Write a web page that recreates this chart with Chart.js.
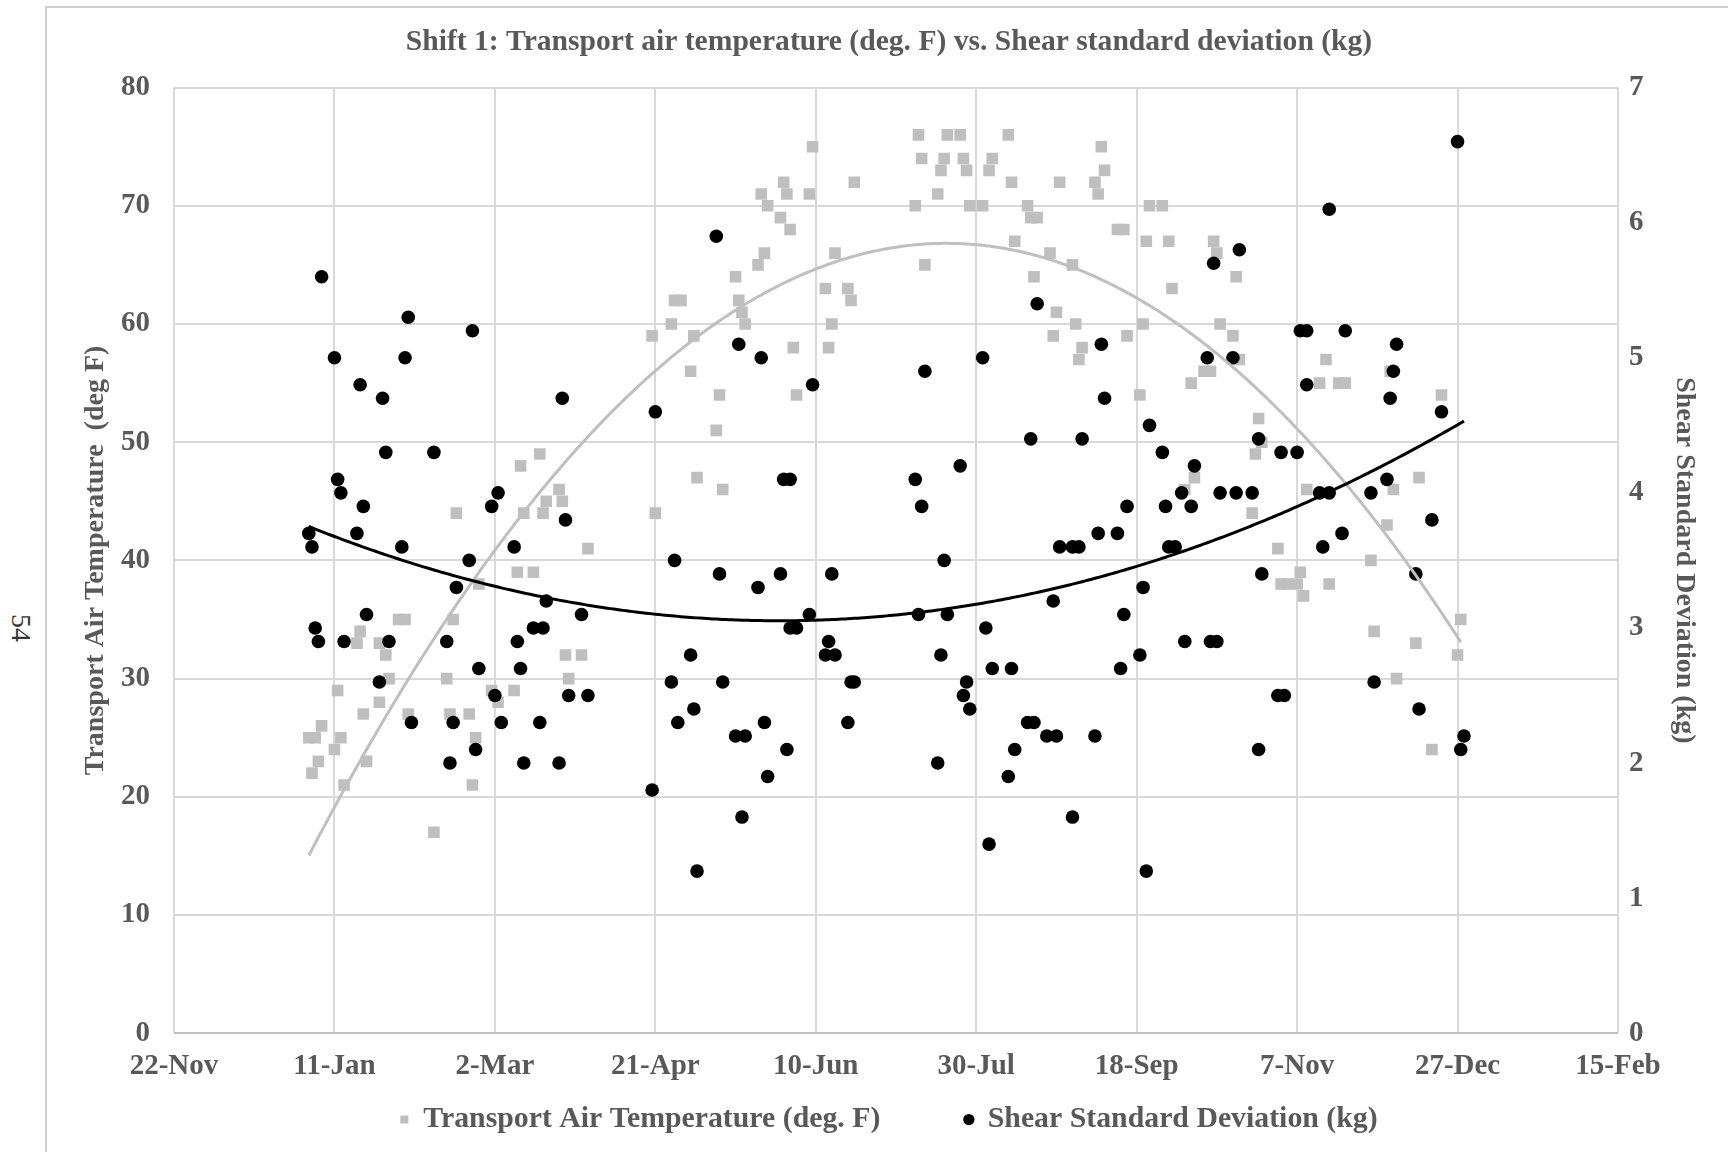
<!DOCTYPE html>
<html>
<head>
<meta charset="utf-8">
<title>Shift 1: Transport air temperature vs. Shear standard deviation</title>
<script src="https://cdn.jsdelivr.net/npm/chart.js@4.4.0/dist/chart.umd.min.js"></script>
<style>
  html, body { margin: 0; padding: 0; background: #fff; }
  body { width: 1728px; height: 1152px; position: relative; overflow: hidden; }
  #page { position: absolute; left: 45px; top: 6px; right: 0; bottom: 0;
          border-left: 2px solid #d0d0d0; border-top: 2px solid #d0d0d0; }
  #pageNo { position: absolute; left: 7px; top: 612px; width: 28px; height: 32px; line-height: 32px;
            text-align: center;
            font: 28px "Liberation Serif", "Times New Roman", serif; color: #333;
            transform: rotate(90deg); }
  #wrap { position: absolute; left: 50px; top: 8px; width: 1678px; height: 1144px; }
</style>
</head>
<body>
<div id="page"></div>
<div id="pageNo">54</div>
<div id="wrap"><canvas id="chart"></canvas></div>
<script>
// x values are day of year 2017 (1 = 1 Jan); the axis runs from 22 Nov 2016 to 15 Feb 2018
const tempDays = [
  3, 5, 4, 6, 7, 11, 12, 13, 14, 18, 19, 20, 21, 25, 25, 27, 28, 31, 33, 34, 42,
  46, 47, 48, 49, 53, 54, 55, 56, 60, 62, 67, 68, 69, 70, 73, 75, 76, 77, 81, 82, 83, 84, 88, 90,
  110, 111, 116, 117, 119, 122, 123, 124, 130, 131, 132, 136, 137, 138, 139, 143, 144, 145, 146,
  150, 151, 152, 153, 154, 155, 159, 160, 164, 165, 166, 167, 171, 172, 173,
  192, 193, 194, 195, 199, 200, 201, 202, 206, 207, 208, 209, 213, 215, 216, 221, 222, 223,
  227, 228, 230, 229, 234, 235, 236, 237, 241, 242, 243, 244, 248, 249, 250, 251, 255, 257, 258,
  262, 263, 264, 265, 269, 271, 272,
  276, 278, 279, 282, 284, 285, 286, 287, 291, 292, 293, 297, 298, 299, 300, 305, 306, 308,
  311, 312, 313, 314, 318, 320, 321, 324, 326, 334, 335, 339, 340, 341, 342, 348, 349, 353, 356, 361, 362
];
const tempF = [
  25, 25, 22, 23, 26, 24, 29, 25, 21, 33, 34, 27, 23, 28, 33, 32, 30, 35, 35, 27, 17,
  30, 27, 35, 44, 27, 21, 25, 38, 29, 28, 29, 39, 48, 44, 39, 49, 44, 45, 46, 45, 32, 30, 32, 41,
  59, 44, 60, 62, 62, 56, 59, 47, 51, 54, 46, 64, 62, 61, 60, 65, 71, 66, 70,
  69, 72, 71, 68, 58, 54, 71, 75, 63, 58, 60, 66, 63, 62, 72,
  70, 76, 74, 65, 71, 73, 74, 76, 76, 74, 73, 70, 70, 73, 74, 76, 72, 67,
  70, 69, 69, 64, 66, 59, 61, 72, 65, 60, 57, 58, 72, 71, 75, 73, 68, 68, 59,
  54, 60, 67, 70, 70, 67, 63,
  46, 55, 47, 56, 56, 67, 66, 60, 59, 64, 57, 44, 49, 52, 50, 41, 38, 38,
  38, 39, 37, 46, 55, 57, 38, 55, 55, 40, 34, 43, 56, 46, 30, 33, 47, 24, 54, 32, 35
];
const shearDays = [
  3, 4, 5, 6, 7, 11, 12, 13, 14, 18, 19, 20, 21, 25, 26, 27, 28, 32, 33, 34, 35, 42,
  46, 47, 48, 49, 53, 54, 55, 56, 60, 61, 62, 63, 67, 68, 69, 70, 73, 75, 76, 77, 81, 82, 83, 84, 88, 90,
  110, 111, 116, 117, 118, 122, 123, 124, 130, 131, 132, 136, 137, 138, 139, 143, 144, 145, 146,
  150, 151, 152, 153, 153, 155, 159, 160, 164, 165, 166, 167, 171, 172, 173,
  192, 193, 194, 195, 199, 200, 201, 202, 206, 207, 208, 209, 213, 214, 215, 216, 221, 222, 223,
  227, 228, 229, 230, 233, 235, 236, 237, 241, 241, 243, 244, 248, 249, 250, 251, 255, 256, 257, 258,
  262, 263, 264, 265, 269, 270, 271, 273, 275, 276,
  278, 279, 283, 284, 285, 286, 287, 291, 292, 293, 297, 299, 299, 300, 305, 306, 307,
  311, 312, 314, 314, 318, 319, 321, 321, 325, 326, 334, 335, 339, 340, 341, 342, 348, 349, 353, 356, 361, 362, 363
];
const shearKg = [
  3.7, 3.6, 3.0, 2.9, 5.6, 5.0, 4.1, 4.0, 2.9, 3.7, 4.8, 3.9, 3.1, 2.6, 4.7, 4.3, 2.9, 3.6, 5.0, 5.3, 2.3, 4.3,
  2.9, 2.0, 2.3, 3.3, 3.5, 5.2, 2.1, 2.7, 3.9, 2.5, 4.0, 2.3, 3.6, 2.9, 2.7, 2.0, 3.0, 2.3, 3.0, 3.2, 2.0, 4.7, 3.8, 2.5, 3.1, 2.5,
  1.8, 4.6, 2.6, 3.5, 2.3, 2.8, 2.4, 1.2, 5.9, 3.4, 2.6, 2.2, 5.1, 1.6, 2.2, 3.3, 5.0, 2.3, 1.9,
  3.4, 4.1, 2.1, 4.1, 3.0, 3.0, 3.1, 4.8, 2.8, 2.9, 3.4, 2.8, 2.3, 2.6, 2.6,
  4.1, 3.1, 3.9, 4.9, 2.0, 2.8, 3.5, 3.1, 4.2, 2.5, 2.6, 2.4, 5.0, 3.0, 1.4, 2.7, 1.9, 2.7, 2.1,
  2.3, 4.4, 2.3, 5.4, 2.2, 3.2, 2.2, 3.6, 1.6, 3.6, 3.6, 4.4, 2.2, 3.7, 5.1, 4.7, 3.7, 2.7, 3.1, 3.9,
  2.8, 3.3, 1.2, 4.5, 4.3, 3.9, 3.6, 3.6, 4.0, 2.9,
  3.9, 4.2, 5.0, 2.9, 5.7, 2.9, 4.0, 5.0, 4.0, 5.8, 4.0, 2.1, 4.4, 3.4, 2.5, 4.3, 2.5,
  4.3, 5.2, 5.2, 4.8, 4.0, 3.6, 4.0, 6.1, 3.7, 5.2, 4.0, 2.6, 4.1, 4.7, 4.9, 5.1, 3.4, 2.4, 3.8, 4.6, 6.6, 2.1, 2.2
];
const tickDays = [-39, 11, 61, 111, 161, 211, 261, 311, 361, 411];
const tickLabels = ['22-Nov', '11-Jan', '2-Mar', '21-Apr', '10-Jun', '30-Jul', '18-Sep', '7-Nov', '27-Dec', '15-Feb'];

const tempLabel = 'Transport Air Temperature (deg. F)';
const shearLabel = 'Shear Standard Deviation (kg)';

// least-squares second order polynomial, like the spreadsheet trendline
function quadFit(xs, ys) {
  const n = xs.length;
  const mx = xs.reduce((a, b) => a + b, 0) / n;
  let s1 = 0, s2 = 0, s3 = 0, s4 = 0, t0 = 0, t1 = 0, t2 = 0;
  xs.forEach((x0, i) => {
    const x = x0 - mx, y = ys[i];
    s1 += x; s2 += x * x; s3 += x * x * x; s4 += x * x * x * x;
    t0 += y; t1 += x * y; t2 += x * x * y;
  });
  const det3 = (m) =>
    m[0][0] * (m[1][1] * m[2][2] - m[1][2] * m[2][1]) -
    m[0][1] * (m[1][0] * m[2][2] - m[1][2] * m[2][0]) +
    m[0][2] * (m[1][0] * m[2][1] - m[1][1] * m[2][0]);
  const A = [[n, s1, s2], [s1, s2, s3], [s2, s3, s4]];
  const rhs = [t0, t1, t2];
  const D = det3(A);
  const coef = [0, 1, 2].map(col => det3(A.map((row, r) => row.map((v, c) => (c === col ? rhs[r] : v)))) / D);
  return x => coef[0] + coef[1] * (x - mx) + coef[2] * (x - mx) * (x - mx);
}

function trendPoints(xs, ys) {
  const f = quadFit(xs, ys);
  const lo = Math.min(...xs), hi = Math.max(...xs);
  const pts = [];
  for (let x = lo; x <= hi; x += 1) pts.push({ x, y: f(x) });
  return pts;
}

const tempPoints = tempDays.map((x, i) => ({ x, y: tempF[i] }));
const shearPoints = shearDays.map((x, i) => ({ x, y: shearKg[i] }));

const serif = "'Liberation Serif', 'Times New Roman', serif";
const textGrey = '#595959';
const gridGrey = '#d9d9d9';
const font = { family: serif, size: 29, weight: 'bold' };
const titleFont = { family: serif, size: 28, weight: 'bold' };

new Chart(document.getElementById('chart'), {
  type: 'scatter',
  data: {
    datasets: [
      {
        label: tempLabel,
        data: tempPoints,
        yAxisID: 'y',
        pointStyle: 'rect',
        radius: 8.2,
        backgroundColor: '#bfbfbf',
        borderWidth: 0,
        order: 4
      },
      {
        label: shearLabel,
        data: shearPoints,
        yAxisID: 'y2',
        pointStyle: 'circle',
        radius: 6.8,
        backgroundColor: '#000000',
        borderWidth: 0,
        order: 3
      },
      {
        type: 'line',
        label: 'temp trend',
        data: trendPoints(tempDays, tempF),
        yAxisID: 'y',
        borderColor: '#bfbfbf',
        borderWidth: 3,
        pointRadius: 0,
        order: 2
      },
      {
        type: 'line',
        label: 'shear trend',
        data: trendPoints(shearDays, shearKg),
        yAxisID: 'y2',
        borderColor: '#000000',
        borderWidth: 3,
        pointRadius: 0,
        order: 1
      }
    ]
  },
  options: {
    responsive: true,
    maintainAspectRatio: false,
    animation: false,
    layout: { padding: { top: 0, left: 0, right: 0, bottom: 7.5 } },
    plugins: {
      title: {
        display: true,
        text: 'Shift 1: Transport air temperature (deg. F) vs. Shear standard deviation (kg)',
        color: textGrey,
        font: { family: serif, size: 29.6, weight: 'bold' },
        padding: { top: 16.3, bottom: 27.8 }
      },
      legend: {
        position: 'bottom',
        labels: {
          usePointStyle: true,
          boxWidth: 8,
          boxHeight: 8,
          padding: 10,
          color: textGrey,
          font: { family: serif, size: 29.8, weight: 'bold' },
          // only the two marker series; pad the first entry so the pair sits apart
          generateLabels: chart =>
            Chart.defaults.plugins.legend.labels.generateLabels(chart)
              .filter(item => item.datasetIndex < 2)
              .map(item => (item.datasetIndex === 0 ? { ...item, text: item.text + ' '.repeat(10) } : item)),
          sort: (a, b) => a.datasetIndex - b.datasetIndex
        }
      },
      tooltip: { enabled: false }
    },
    scales: {
      x: {
        type: 'linear',
        min: -39,
        max: 411,
        afterBuildTicks: axis => { axis.ticks = tickDays.map(value => ({ value })); },
        afterFit: scale => { scale.height = 61.5; },
        ticks: {
          callback: (value, index) => tickLabels[index],
          color: textGrey,
          font,
          padding: 15.6,
          maxRotation: 0,
          autoSkip: false
        },
        grid: { color: gridGrey, lineWidth: 2, drawTicks: false },
        border: { display: false }
      },
      y: {
        position: 'left',
        min: 0,
        max: 80,
        afterFit: scale => { scale.width = 124; },
        ticks: { stepSize: 10, color: textGrey, font, padding: 24 },
        grid: {
          color: ctx => (ctx.tick.value === 0 ? '#bfbfbf' : gridGrey),
          lineWidth: 2,
          drawTicks: false
        },
        border: { display: false },
        title: {
          display: true,
          text: 'Transport Air Temperature  (deg F)',
          color: textGrey,
          font: titleFont,
          padding: { top: 29, bottom: 0 }
        }
      },
      y2: {
        position: 'right',
        min: 0,
        max: 7,
        afterFit: scale => { scale.width = 110; },
        ticks: { stepSize: 1, color: textGrey, font, padding: 11 },
        grid: { drawOnChartArea: false, drawTicks: false },
        border: { display: false },
        title: {
          display: true,
          text: shearLabel,
          color: textGrey,
          font: titleFont,
          padding: { top: 27.2, bottom: 0 }
        }
      }
    }
  }
});
</script>
</body>
</html>
